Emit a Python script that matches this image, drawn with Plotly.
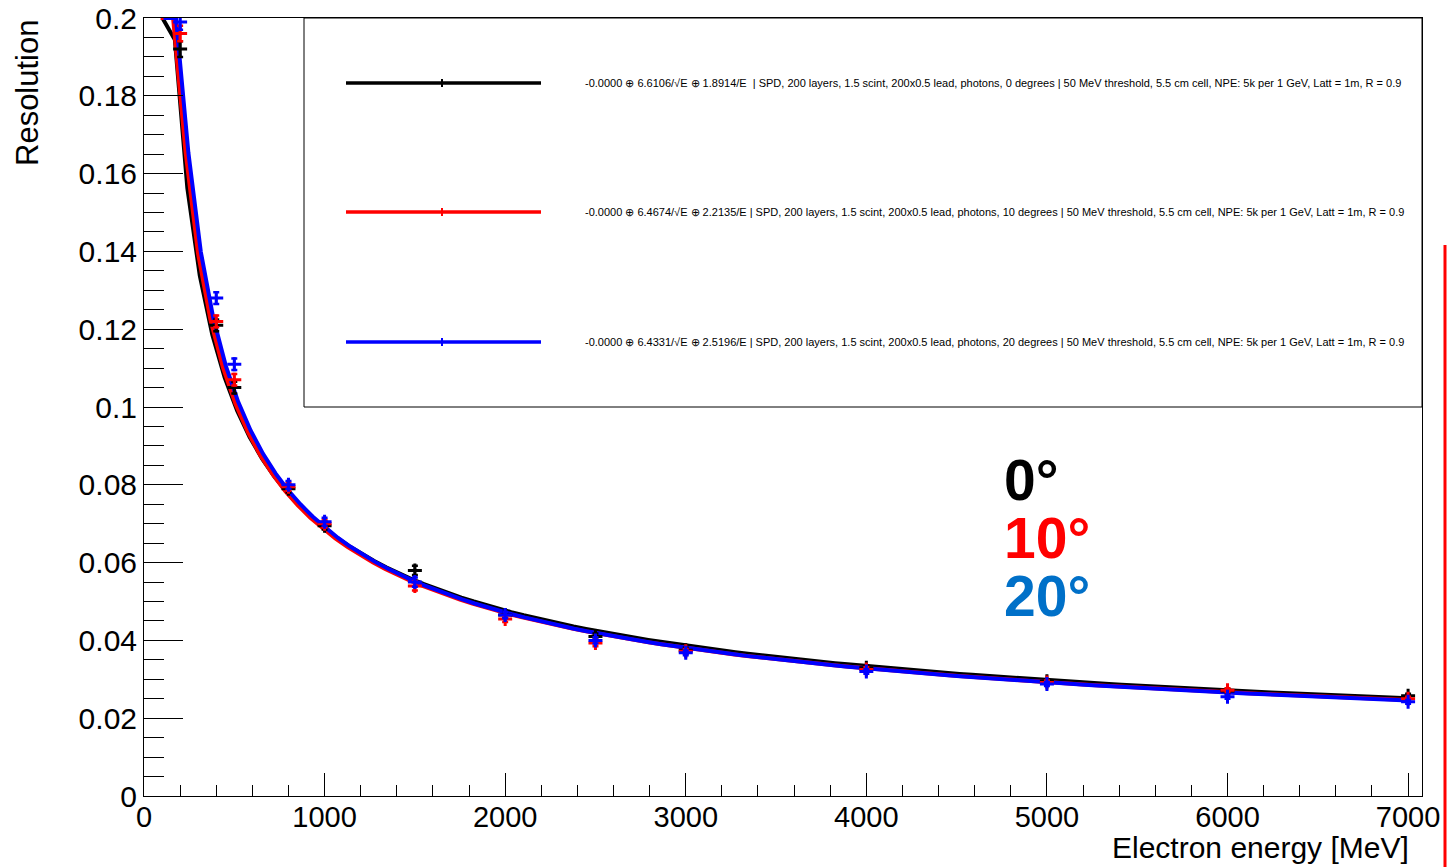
import numpy as np
import plotly.graph_objects as go

# Beam energies of the measured points [MeV]
energy = [200, 400, 500, 800, 1000, 1500, 2000, 2500, 3000, 4000, 5000, 6000, 7000]

# Measured relative resolution for each incidence angle
res_0deg = [0.192, 0.121, 0.105, 0.079, 0.0695, 0.058, 0.0465, 0.041, 0.0375, 0.0330, 0.0295, 0.0270, 0.0258]
res_10deg = [0.196, 0.122, 0.107, 0.0795, 0.070, 0.054, 0.0455, 0.0393, 0.0372, 0.0325, 0.0292, 0.0272, 0.0250]
res_20deg = [0.199, 0.128, 0.111, 0.0800, 0.0705, 0.055, 0.0465, 0.0400, 0.0368, 0.0320, 0.0288, 0.0255, 0.0242]
res_err = [0.002, 0.0015, 0.0015, 0.001, 0.001, 0.0012, 0.0008, 0.0008, 0.0006, 0.0006, 0.0005, 0.0005, 0.0005]

# Fit parameters: constant (+) stochastic/sqrt(E) (+) noise/E, in percent, E in GeV
fit_const = [0.0, 0.0, 0.0]
fit_stoch = [6.6106, 6.4674, 6.4331]
fit_noise = [1.8914, 2.2135, 2.5196]
fit_emin = [102, 92, 108]
fit_emax = 7000
fit_npx = 100

angles = ["0", "10", "20"]
legend_texts = [
    "-0.0000 \u2295 6.6106/\u221aE \u2295 1.8914/E  | SPD, 200 layers, 1.5 scint, 200x0.5 lead, photons, 0 degrees | 50 MeV threshold, 5.5 cm cell, NPE: 5k per 1 GeV, Latt = 1m, R = 0.9",
    "-0.0000 \u2295 6.4674/\u221aE \u2295 2.2135/E | SPD, 200 layers, 1.5 scint, 200x0.5 lead, photons, 10 degrees | 50 MeV threshold, 5.5 cm cell, NPE: 5k per 1 GeV, Latt = 1m, R = 0.9",
    "-0.0000 \u2295 6.4331/\u221aE \u2295 2.5196/E | SPD, 200 layers, 1.5 scint, 200x0.5 lead, photons, 20 degrees | 50 MeV threshold, 5.5 cm cell, NPE: 5k per 1 GeV, Latt = 1m, R = 0.9",
]

y_tickvals = [0, 0.02, 0.04, 0.06, 0.08, 0.1, 0.12, 0.14, 0.16, 0.18, 0.2]
y_ticktext = ["0", "0.02", "0.04", "0.06", "0.08", "0.1", "0.12", "0.14", "0.16", "0.18", "0.2"]
x_tickvals = [0, 1000, 2000, 3000, 4000, 5000, 6000, 7000]
x_ticktext = ["0", "1000", "2000", "3000", "4000", "5000", "6000", "7000"]

colors = ["#000000", "#ff0000", "#0000ff"]
label_colors = ["#000000", "#ff0000", "#0070c8"]
y_max = 0.2

fig = go.Figure()

# Fitted resolution curves, sampled like a drawn TF1 and clamped at the frame top
for i in range(3):
    e = np.linspace(fit_emin[i], fit_emax, fit_npx + 1)
    eg = e / 1000.0
    r = np.sqrt(fit_const[i] ** 2 + fit_stoch[i] ** 2 / eg + (fit_noise[i] / eg) ** 2) / 100.0
    r = np.minimum(r, y_max)
    fig.add_trace(go.Scatter(x=e, y=r, mode="lines",
                             line=dict(color=colors[i], width=4),
                             showlegend=False, hoverinfo="skip", cliponaxis=True))

# Measured points
for i, vals in enumerate([res_0deg, res_10deg, res_20deg]):
    fig.add_trace(go.Scatter(x=energy, y=vals, mode="markers",
                             marker=dict(symbol="cross-thin", size=10, color=colors[i],
                                         line=dict(color=colors[i], width=3)),
                             error_y=dict(type="data", array=res_err, color=colors[i],
                                          thickness=2.5, width=3),
                             showlegend=False, cliponaxis=True))

# Plot-area geometry in pixels (for paper-coordinate overlays)
L, R, T, B = 144, 1422, 18, 796
W, H = R - L, B - T


def px(x):
    return (x - L) / W


def py(y):
    return (B - y) / H


shapes = []
annotations = []

# Legend box
shapes.append(dict(type="rect", xref="paper", yref="paper",
                   x0=px(304), x1=1.0, y0=py(407), y1=1.0,
                   line=dict(color="black", width=1), fillcolor="rgba(255,255,255,1)", layer="above"))
legend_rows = [83, 212, 342]
for i, yrow in enumerate(legend_rows):
    shapes.append(dict(type="line", xref="paper", yref="paper",
                       x0=px(346), x1=px(541), y0=py(yrow), y1=py(yrow),
                       line=dict(color=colors[i], width=3.5), layer="above"))
    shapes.append(dict(type="line", xref="paper", yref="paper",
                       x0=px(442), x1=px(442), y0=py(yrow - 4), y1=py(yrow + 4),
                       line=dict(color=colors[i], width=2), layer="above"))
    annotations.append(dict(text=legend_texts[i], xref="paper", yref="paper",
                            x=px(583), y=py(yrow), xanchor="left", yanchor="middle",
                            showarrow=False,
                            font=dict(family="Liberation Sans", size=11, color="black")))

# Angle labels
for i, ycen in enumerate([480, 538, 596]):
    annotations.append(dict(text="<b>" + angles[i] + "\u00b0</b>", xref="paper", yref="paper",
                            x=px(1002), y=py(ycen), xanchor="left", yanchor="middle",
                            showarrow=False,
                            font=dict(family="Liberation Sans", size=57, color=label_colors[i])))

# Axis titles
annotations.append(dict(text="Resolution", xref="paper", yref="paper",
                        x=px(27), y=1.0, xanchor="center", yanchor="top", textangle=-90,
                        showarrow=False, font=dict(family="Liberation Sans", size=31, color="black")))
annotations.append(dict(text="Electron energy [MeV]", xref="paper", yref="paper",
                        x=px(1411), y=py(866), xanchor="right", yanchor="bottom",
                        showarrow=False, font=dict(family="Liberation Sans", size=30, color="black")))

# Vertical red marker line at the right edge
shapes.append(dict(type="line", xref="paper", yref="paper",
                   x0=px(1445), x1=px(1445), y0=py(245), y1=py(867),
                   line=dict(color="#ff0000", width=3), layer="above"))

fig.update_layout(
    width=1447, height=867,
    margin=dict(l=L, r=1447 - R, t=T, b=867 - B, autoexpand=False),
    paper_bgcolor="white", plot_bgcolor="white",
    shapes=shapes, annotations=annotations,
    showlegend=False,
    font=dict(family="Liberation Sans", size=30, color="black"),
)

fig.update_xaxes(range=[0, 7077], showgrid=False, zeroline=False, automargin=False,
                 showline=True, mirror=True, linecolor="black", linewidth=1,
                 ticks="inside", ticklen=23, tickwidth=1, tickcolor="black",
                 tickvals=x_tickvals, ticktext=x_ticktext,
                 ticklabelstandoff=-5,
                 tickfont=dict(family="Liberation Sans", size=29, color="black"),
                 minor=dict(ticks="inside", ticklen=11, dtick=200, tick0=0,
                            tickcolor="black", tickwidth=1, showgrid=False))
fig.update_yaxes(range=[0, 0.2], showgrid=False, zeroline=False, automargin=False,
                 showline=True, mirror=True, linecolor="black", linewidth=1,
                 ticks="inside", ticklen=39, tickwidth=1, tickcolor="black",
                 tickvals=y_tickvals, ticktext=y_ticktext,
                 ticklabelstandoff=0,
                 tickfont=dict(family="Liberation Sans", size=30, color="black"),
                 minor=dict(ticks="inside", ticklen=20, dtick=0.005, tick0=0,
                            tickcolor="black", tickwidth=1, showgrid=False))

fig.write_html("out.html")
